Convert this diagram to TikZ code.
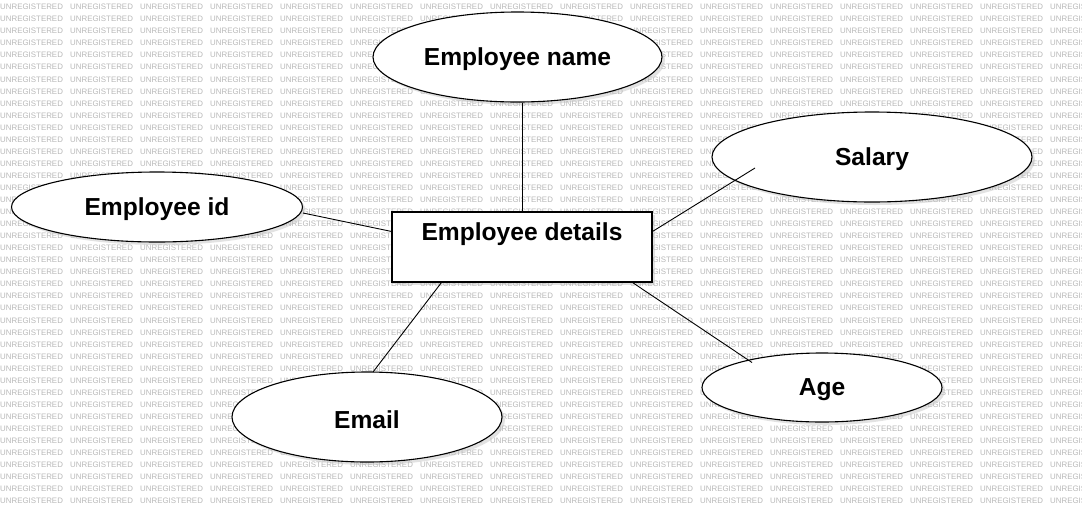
\documentclass[tikz,border=0pt]{standalone}
\usepackage{fontspec}
\setmainfont{Liberation Sans}
\usetikzlibrary{shapes.geometric,calc,shadows}
\begin{document}
\begin{tikzpicture}[x=1pt,y=-1pt,
  wm/.style={anchor=west,inner sep=0pt,text=black!28,font=\fontsize{7.9}{8}\selectfont},
  lbl/.style={inner sep=0pt,yshift=-2.5pt,font=\bfseries\fontsize{24.6}{28}\selectfont},
  shad/.style={drop shadow={shadow xshift=3pt,shadow yshift=-3pt,fill=black!25,opacity=.45}},
  attr/.style={ellipse,draw=black,line width=1.1pt,fill=white,inner sep=0pt,shad},
  ent/.style={rectangle,draw=black,line width=1.1pt,fill=white,inner sep=0pt,shad,minimum width=260pt,minimum height=70pt},
  conn/.style={draw=black,line width=0.9pt}]
\useasboundingbox (0,0) rectangle (1082,512);
\begin{scope}
  \clip (0,0) rectangle (1082,512);
  \foreach \r in {0,...,41}{
    \foreach \c in {0,...,15}{
      \node[wm] at (\c*70, 7+\r*12.05) {UNREGISTERED};
    }
  }
\end{scope}
% shapes
\node[attr,minimum width=289pt,minimum height=90pt] (name) at (517.5,57) {};
\node[attr,minimum width=320pt,minimum height=90pt] (sal) at (872,157) {};
\node[attr,minimum width=291pt,minimum height=70pt] (id) at (157,207) {};
\node[ent] (det) at (522,247) {};
\node[attr,minimum width=270pt,minimum height=90pt] (em) at (367,417) {};
\node[attr,minimum width=240pt,minimum height=69pt] (age) at (822,387.5) {};
% labels
\node[lbl] (nameT) at (name.center) {Employee name};
\node[lbl] (salT) at (sal.center) {Salary};
\node[lbl] (idT) at (id.center) {Employee id};
\node[lbl] (detT) at ($(det.north)+(0,20)$) {Employee details};
\node[lbl] (emT) at (em.center) {Email};
\node[lbl] (ageT) at (age.center) {Age};
% connectors
\draw[conn] ($(id.center)+(146,6)$) -- ($(det.north west)+(0,20)$);
\draw[conn] (det.north) -- (det.north |- name.south);
\draw[conn] ($(det.north east)+(0,20)$) -- ($(sal.center)+(-117,11)$);
\draw[conn] ($(det.south west)+(50,0)$) -- ($(em.center)+(6,-45)$);
\draw[conn] ($(det.south east)+(-20,0)$) -- ($(age.center)+(-70,-25)$);
\end{tikzpicture}
\end{document}
